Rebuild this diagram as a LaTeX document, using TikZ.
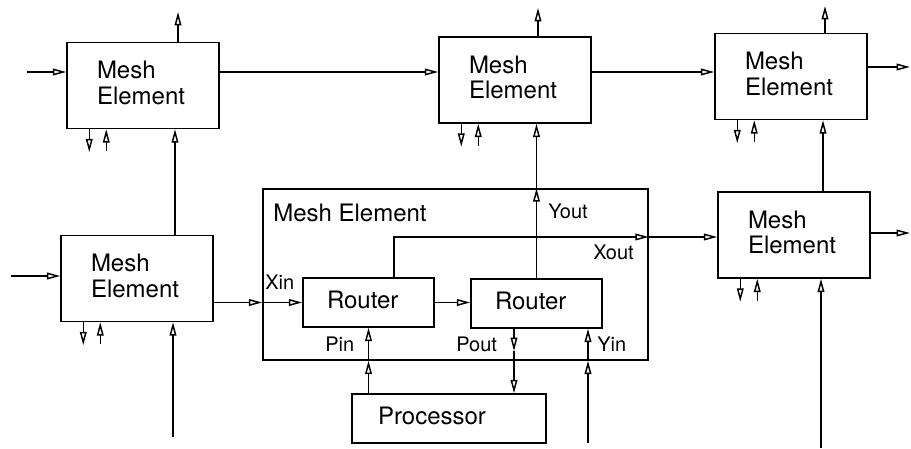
\documentclass[tikz,border=0pt]{standalone}
\usepackage{fontspec}
\setmainfont{TeX Gyre Heros}
\usetikzlibrary{arrows.meta, positioning, calc}

\begin{document}
\begin{tikzpicture}[x=0.75pt, y=0.75pt,
  mesh/.style={
    rectangle, draw, line width=1.1pt,
    minimum width=114pt, minimum height=64.5pt,
    text width=69pt, inner xsep=22.5pt, align=left, text depth=23pt,
    font=\fontsize{18}{19}\selectfont
  },
  router/.style={
    rectangle, draw, line width=1.1pt,
    minimum width=98.25pt, minimum height=36.75pt,
    text width=62.25pt, inner xsep=18pt, align=left, text depth=4pt,
    font=\fontsize{18}{19}\selectfont
  },
  port/.style={font=\fontsize{15}{16}\selectfont, inner sep=0pt, anchor=base west},
  sig/.style={-{Triangle[open, length=10pt, width=5pt]}, line width=1.1pt},
]
\useasboundingbox (0,0) rectangle (911,449);

%% Outer mesh elements
\node[mesh] (mtl) at (143,363.5) {Mesh\\Element};
\node[mesh] (mtm) at (515,369)   {Mesh\\Element};
\node[mesh] (mtr) at (791,372.5) {Mesh\\Element};
\node[mesh] (mml) at (137,170.5) {Mesh\\Element};
\node[mesh] (mmr) at (794,214)   {Mesh\\Element};

%% Inner mesh element
\node[rectangle, draw, line width=1.1pt, minimum width=288.75pt, minimum height=128.25pt]
  (mesh) at (455.5,174.5) {};
\node[port, font=\fontsize{18}{19}\selectfont] (meshlbl) at (273,227) {Mesh Element};
\node[router] (rta) at (368.5,146.5) {Router};
\node[router] (rtb) at (536.5,145.5) {Router};
\node[router, minimum width=145.5pt, text width=106.5pt, inner xsep=19.5pt]
  (proc) at (449,30.5) {Processor};

%% Port labels
\node[port] (xin)  at (265,159) {Xin};
\node[port] (yout) at (548,230) {Yout};
\node[port] (xout) at (593,189) {Xout};
\node[port] (pin)  at (325,97)  {Pin};
\node[port] (pout) at (456,97)  {Pout};
\node[port] (yinl) at (597,97)  {Yin};

%% Free ends
\coordinate (alin) at (27,377);
\coordinate (dlin) at (11,173);
\coordinate (aout) at (178,437);
\coordinate (bout) at (538,441);
\coordinate (cout) at (825,443);
\coordinate (crt)  at (910,382);
\coordinate (ert)  at (910,216);
\coordinate (da)   at (175,0);
\coordinate (din)  at (173,12);
\coordinate (ec)   at (823,0);
\coordinate (ein)  at (821,1);
\coordinate (yin)  at (588,6);
\coordinate (xo)   at (394,212);
\coordinate (pm)   at (514,98);

%% Local ports under each outer element
\foreach \n in {mtl, mtm, mtr, mml, mmr} {
  \draw[sig] ($(\n.south west)+(23,0)$) -- ++(0,-23);
  \draw[sig] ($(\n.south west)+(40,-22)$) -- ++(0,22);
}

%% Top row
\draw[sig] (alin) -- (alin -| mtl.west);
\draw[sig] (mtl.east |- alin) -- (mtm.west |- alin);
\draw[sig] (mtm.east |- alin) -- (mtr.west |- alin);
\draw[sig] (crt -| mtr.east) -- (crt);
\draw[sig] (aout |- mtl.north) -- (aout);
\draw[sig] (bout |- mtm.north) -- (bout);
\draw[sig] (cout |- mtr.north) -- (cout);

%% Left column
\draw[sig] (dlin) -- (dlin -| mml.west);
\draw[sig] (din) -- (din |- mml.south);
\draw[sig] (da |- mml.north) -- (da |- mtl.south);

%% Right column
\draw[sig] (ert -| mmr.east) -- (ert);
\draw[sig] (ein) -- (ein |- mmr.south);
\draw[sig] (ec |- mmr.north) -- (ec |- mtr.south);

%% X path
\draw[sig] (mml.east |- rta.west) -- (mesh.west |- rta.west);
\draw[sig] (mesh.west |- rta.west) -- (rta.west);
\draw[sig] (rta.east) -- (rta.east -| rtb.west);
\draw[sig] (rta.north -| xo) |- (mesh.east |- xo);
\draw[sig] (mesh.east |- xo) -- (mmr.west |- xo);

%% Y path
\draw[sig] (yin) -- (yin |- mesh.south);
\draw[sig] (yin |- mesh.south) -- (yin |- rtb.south);
\draw[sig] (rtb.north) -- (rtb.north |- mesh.north);
\draw[sig] (rtb.north |- mesh.north) -- (rtb.north |- mtm.south);

%% Processor
\draw[sig] (rta.south |- proc.north) -- (rta.south |- mesh.south);
\draw[sig] (rta.south |- mesh.south) -- (rta.south);
\draw[sig] (rtb.south -| pm) -- (pm);
\draw[sig] (pm) -- (pm |- proc.north);

\end{tikzpicture}
\end{document}
